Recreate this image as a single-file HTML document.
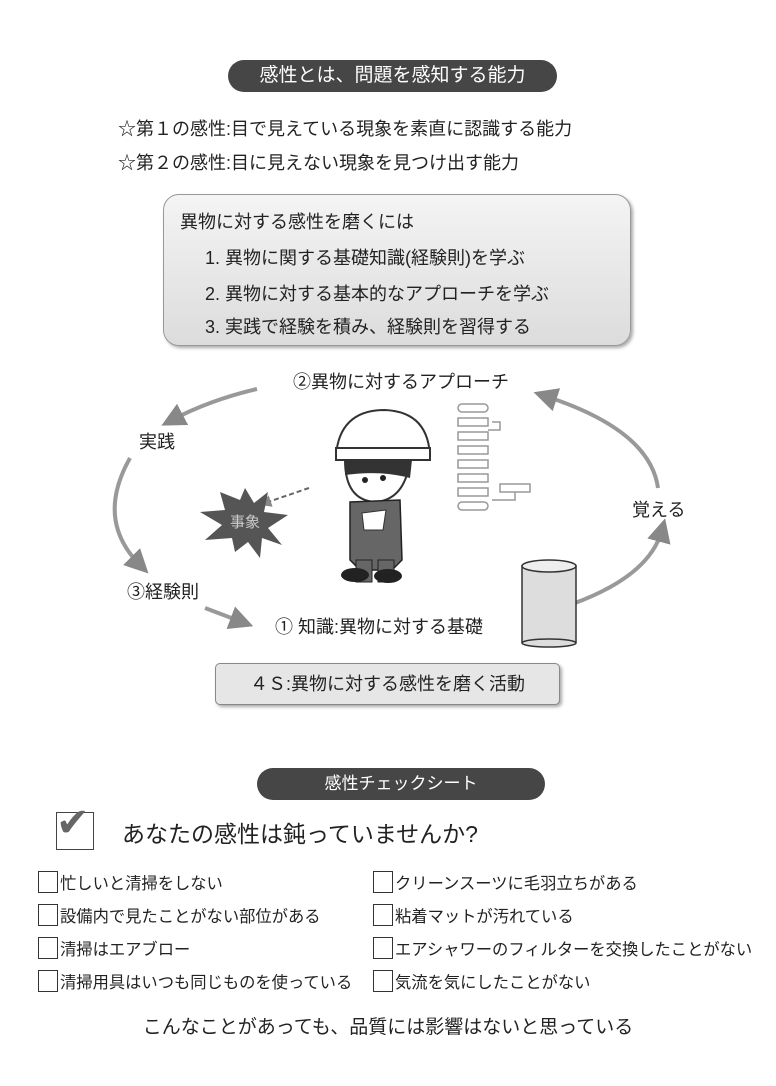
<!DOCTYPE html>
<html><head><meta charset="utf-8"><style>
body{margin:0;width:776px;height:1086px;background:#fff;position:relative;overflow:hidden;font-family:"Liberation Sans","Noto Sans CJK JP",sans-serif;color:#222}
.a{position:absolute;white-space:nowrap}
.pill{position:absolute;background:#464646;color:#fff;border-radius:17px;text-align:center}
.cb{display:inline-block;width:18px;height:20px;border:1.5px solid #333;vertical-align:-4px;margin-right:2px;background:#fff}
.c{font-size:16.3px}
</style></head><body>
<div class="pill" style="left:228px;top:60px;width:329px;height:32px;line-height:32px;font-size:19px">感性とは、問題を感知する能力</div>
<div class="a" style="left:118px;top:115px;font-size:18px">☆第１の感性:目で見えている現象を素直に認識する能力</div>
<div class="a" style="left:118px;top:149px;font-size:18px">☆第２の感性:目に見えない現象を見つけ出す能力</div>
<div class="a" style="left:163px;top:194px;width:466px;height:150px;border:1.5px solid #999;border-radius:16px;background:linear-gradient(#f4f4f4,#dcdcdc);box-shadow:2px 2px 3px #aaa"></div>
<div class="a" style="left:180px;top:208px;font-size:18px">異物に対する感性を磨くには</div>
<div class="a" style="left:205px;top:244px;font-size:18px">1. 異物に関する基礎知識(経験則)を学ぶ</div>
<div class="a" style="left:205px;top:280px;font-size:18px">2. 異物に対する基本的なアプローチを学ぶ</div>
<div class="a" style="left:205px;top:313px;font-size:18px">3. 実践で経験を積み、経験則を習得する</div>
<svg class="a" style="left:0;top:0" width="776" height="1086">
<defs><marker id="m" markerWidth="6" markerHeight="6" refX="3" refY="3" orient="auto"><path d="M0,0L6,3L0,6Z" fill="#888"/></marker></defs>
<g stroke="#999" stroke-width="4" fill="none" marker-end="url(#m)">
<path d="M257,389 Q210,400 172,420"/>
<path d="M130,458 Q95,520 140,565"/>
<path d="M205,608 L242,622"/>
<path d="M575,603 Q650,575 662,530"/>
<path d="M658,488 Q650,430 545,396"/>
</g>
<path d="M309,488 L265,503" stroke="#666" stroke-width="2" stroke-dasharray="5,3" fill="none" marker-end="url(#m)"/>
<polygon points="245,488 254,503 268,492 264,512 288,515 268,528 282,545 262,538 260,558 248,542 235,552 232,538 205,540 222,525 200,512 225,510 220,492 240,500" fill="#555"/>
<text x="245" y="527" font-size="15" fill="#ccc" text-anchor="middle" font-family="Noto Sans CJK JP">事象</text>
<g fill="#fff" stroke="#999" stroke-width="1.5">
<rect x="458" y="404" width="30" height="8" rx="4"/><rect x="458" y="418" width="30" height="8"/><rect x="458" y="432" width="30" height="8"/><rect x="458" y="446" width="30" height="8"/><rect x="458" y="460" width="30" height="8"/><rect x="458" y="474" width="30" height="8"/><rect x="458" y="488" width="30" height="8"/><rect x="458" y="502" width="30" height="8" rx="4"/><rect x="500" y="484" width="30" height="8"/>
<path d="M488,430 L500,430 L500,422 L492,422" fill="none"/><path d="M515,492 L515,500 L492,500" fill="none"/>
</g>
<path d="M336,455 Q340,410 385,410 Q430,412 430,460 Z" fill="#fff" stroke="#333" stroke-width="2"/>
<rect x="336" y="448" width="94" height="12" fill="#fff" stroke="#333" stroke-width="2"/>
<path d="M345,460 Q345,500 375,502 Q405,500 410,460 Z" fill="#fff" stroke="#333" stroke-width="2"/>
<path d="M345,460 L412,460 L410,478 Q380,470 345,475Z" fill="#333"/>
<circle cx="365" cy="480" r="3" fill="#222"/><circle cx="383" cy="478" r="3" fill="#222"/>
<path d="M350,502 L400,500 L402,560 L392,570 L360,570 L350,560Z" fill="#666" stroke="#222" stroke-width="1.5"/>
<rect x="356" y="560" width="16" height="22" fill="#666" stroke="#222"/><rect x="378" y="560" width="16" height="22" fill="#666" stroke="#222"/>
<ellipse cx="355" cy="575" rx="14" ry="7" fill="#222"/><ellipse cx="388" cy="576" rx="14" ry="7" fill="#222"/>
<path d="M362,513 L386,510 L383,530 L364,530Z" fill="#fff" stroke="#333"/>
<rect x="522" y="566" width="54" height="76" fill="#ddd" stroke="#333" stroke-width="1.5"/>
<ellipse cx="549" cy="643" rx="27" ry="4" fill="#ddd" stroke="#333" stroke-width="1.5"/>
<ellipse cx="549" cy="566" rx="27" ry="6" fill="#eee" stroke="#333" stroke-width="1.5"/>
</svg>
<div class="a" style="left:293px;top:368px;font-size:18px">②異物に対するアプローチ</div>
<div class="a" style="left:139px;top:428px;font-size:18px">実践</div>
<div class="a" style="left:127px;top:578px;font-size:18px">③経験則</div>
<div class="a" style="left:275px;top:613px;font-size:18px">① 知識:異物に対する基礎</div>
<div class="a" style="left:632px;top:496px;font-size:18px">覚える</div>
<div class="a" style="left:215px;top:663px;width:343px;height:40px;border:1.5px solid #888;border-radius:5px;background:#e6e6e6;box-shadow:2px 2px 3px #aaa;text-align:center;line-height:40px;font-size:18px">４Ｓ:異物に対する感性を磨く活動</div>
<div class="pill" style="left:257px;top:768px;width:288px;height:32px;line-height:32px;font-size:17px">感性チェックシート</div>
<div class="a" style="left:56px;top:812px;width:36px;height:36px;border:1.5px solid #444"></div>
<div class="a" style="left:56px;top:798px;font-size:40px;color:#666;line-height:50px">✔</div>
<div class="a" style="left:122px;top:815px;font-size:23px">あなたの感性は鈍っていませんか?</div>
<div class="a c" style="left:38px;top:870px"><span class="cb"></span>忙しいと清掃をしない</div>
<div class="a c" style="left:38px;top:903px"><span class="cb"></span>設備内で見たことがない部位がある</div>
<div class="a c" style="left:38px;top:936px"><span class="cb"></span>清掃はエアブロー</div>
<div class="a c" style="left:38px;top:969px"><span class="cb"></span>清掃用具はいつも同じものを使っている</div>
<div class="a c" style="left:373px;top:870px"><span class="cb"></span>クリーンスーツに毛羽立ちがある</div>
<div class="a c" style="left:373px;top:903px"><span class="cb"></span>粘着マットが汚れている</div>
<div class="a c" style="left:373px;top:936px"><span class="cb"></span>エアシャワーのフィルターを交換したことがない</div>
<div class="a c" style="left:373px;top:969px"><span class="cb"></span>気流を気にしたことがない</div>
<div class="a" style="left:0;width:776px;text-align:center;top:1012px;font-size:19px">こんなことがあっても、品質には影響はないと思っている</div>
</body></html>
